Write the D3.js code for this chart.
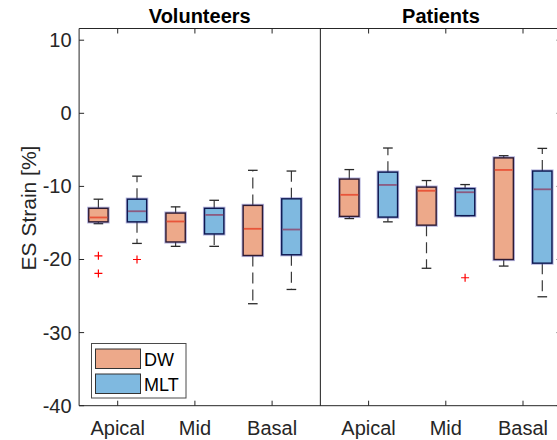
<!DOCTYPE html>
<html>
<head>
<meta charset="utf-8">
<script src="https://cdn.jsdelivr.net/npm/d3@7"></script>
<style>
  html, body { margin: 0; padding: 0; background: #fff; }
  svg { display: block; font-family: "Liberation Sans", Arial, sans-serif; }
</style>
</head>
<body>
<svg id="chart" width="557" height="440"></svg>
<script>
// ---------- data ----------
const groups = ["Volunteers", "Patients"];
const categories = ["Apical", "Mid", "Basal"];
const seriesNames = ["DW", "MLT"];
const yTicks = [10, 0, -10, -20, -30, -40];

// stats: [lower whisker, Q1, median, Q3, upper whisker]
const volunteersDW = [
  [-15.1, -14.85, -14.25, -13.0, -11.75],
  [-18.2, -17.6, -14.8, -13.65, -12.8],
  [-26.05, -19.45, -15.8, -12.6, -7.8]
];
const volunteersMLT = [
  [-17.8, -14.85, -13.4, -11.75, -8.6],
  [-18.2, -16.5, -13.9, -13.0, -11.9],
  [-24.1, -19.35, -15.9, -11.7, -7.9]
];
const patientsDW = [
  [-14.4, -14.1, -11.15, -9.0, -7.7],
  [-21.2, -15.3, -10.6, -10.1, -9.2],
  [-20.9, -20.0, -7.75, -6.1, -5.8]
];
const patientsMLT = [
  [-14.85, -14.2, -9.8, -8.05, -4.75],
  [-14.0, -14.0, -10.8, -10.3, -9.75],
  [-25.1, -20.5, -10.4, -7.9, -4.8]
];
// outliers: [group, category, series, value]
const outliers = [
  ["Volunteers", "Apical", "DW", -19.5],
  ["Volunteers", "Apical", "DW", -21.9],
  ["Volunteers", "Apical", "MLT", -20.0],
  ["Patients", "Mid", "MLT", -22.5]
];

// ---------- layout ----------
const svg = d3.select("#chart");
const x = d3.scaleLinear().domain([0.5, 6.75]).range([79.1, 561.6]);
const y = d3.scaleLinear().domain([-40, 11.6]).range([405.7, 28.5]);

const groupBase = { "Volunteers": 1, "Patients": 4.25 };
const seriesOffset = { "DW": -0.25, "MLT": 0.25 };
const boxW = 0.25;
const fills = { "DW": "#EDA98A", "MLT": "#7FB9E0" };
const edges = { "DW": "#2e1b33", "MLT": "#0d1850" };
const medColors = { "DW": "#E8553A", "MLT": "#8C5A80" };
const axisColor = "#262626";

const statTable = {
  "Volunteers": { "DW": volunteersDW, "MLT": volunteersMLT },
  "Patients": { "DW": patientsDW, "MLT": patientsMLT }
};

const boxes = [];
groups.forEach(g => categories.forEach((c, ci) => seriesNames.forEach(s => {
  const st = statTable[g][s][ci];
  boxes.push({ g, c, s, pos: groupBase[g] + ci + seriesOffset[s],
    lw: st[0], q1: st[1], med: st[2], q3: st[3], uw: st[4] });
})));

const bx = svg.append("g");
boxes.forEach(b => {
  const xc = x(b.pos);
  const hw = (x(boxW) - x(0)) / 2;
  const capHw = hw / 2;
  const gg = bx.append("g");
  // whiskers (dashed, drawn from box edge outward)
  [[b.q3, b.uw], [b.q1, b.lw]].forEach(([from, to]) => {
    if (Math.abs(y(from) - y(to)) > 0.5) {
      gg.append("line").attr("x1", xc).attr("x2", xc)
        .attr("y1", y(from)).attr("y2", y(to))
        .attr("stroke", "#3a3a3a").attr("stroke-width", 1.2)
        .attr("stroke-dasharray", "11,6");
    }
    gg.append("line").attr("x1", xc - capHw).attr("x2", xc + capHw)
      .attr("y1", y(to)).attr("y2", y(to))
      .attr("stroke", "#2a2a2a").attr("stroke-width", 1.3);
  });
  // glow
  gg.append("rect").attr("x", xc - hw).attr("width", 2 * hw)
    .attr("y", y(b.q3)).attr("height", y(b.q1) - y(b.q3))
    .attr("fill", "none").attr("stroke", "#5050b0").attr("stroke-opacity", 0.45)
    .attr("stroke-width", 3.2);
  gg.append("rect").attr("x", xc - hw).attr("width", 2 * hw)
    .attr("y", y(b.q3)).attr("height", y(b.q1) - y(b.q3))
    .attr("fill", fills[b.s]).attr("stroke", edges[b.s]).attr("stroke-width", 1.4);
  gg.append("line").attr("x1", xc - hw + 0.7).attr("x2", xc + hw - 0.7)
    .attr("y1", y(b.med)).attr("y2", y(b.med))
    .attr("stroke", medColors[b.s]).attr("stroke-width", 1.8);
});

// outliers
outliers.forEach(([g, c, s, v]) => {
  const xc = x(groupBase[g] + categories.indexOf(c) + seriesOffset[s]);
  const yc = y(v);
  bx.append("path")
    .attr("d", `M${xc - 4},${yc}H${xc + 4}M${xc},${yc - 4}V${yc + 4}`)
    .attr("stroke", "#ff0000").attr("stroke-width", 1.2).attr("fill", "none");
});

// ---------- axes ----------
const [x0, x1] = x.range();
const [yb, yt] = y.range();
const ax = svg.append("g").attr("stroke", axisColor).attr("stroke-width", 1);
ax.append("line").attr("x1", x0).attr("x2", x1).attr("y1", yb).attr("y2", yb);
ax.append("line").attr("x1", x0).attr("x2", x1).attr("y1", yt).attr("y2", yt);
ax.append("line").attr("x1", x0).attr("x2", x0).attr("y1", yt).attr("y2", yb);
ax.append("line").attr("x1", x1).attr("x2", x1).attr("y1", yt).attr("y2", yb);
// divider
const divPos = (groupBase["Volunteers"] + categories.length - 1 + groupBase["Patients"]) / 2;
ax.append("line").attr("x1", x(divPos)).attr("x2", x(divPos)).attr("y1", yt).attr("y2", yb)
  .attr("stroke", "#1a1a1a");

const tl = 5;
yTicks.forEach(v => {
  ax.append("line").attr("x1", x0).attr("x2", x0 + tl).attr("y1", y(v)).attr("y2", y(v));
  ax.append("line").attr("x1", x1).attr("x2", x1 - tl).attr("y1", y(v)).attr("y2", y(v));
});
svg.append("g").selectAll("text").data(yTicks).join("text")
  .attr("x", x0 - 7.5).attr("y", v => y(v)).attr("dy", "0.35em")
  .attr("text-anchor", "end").attr("font-size", 20).attr("fill", axisColor)
  .text(v => v);

groups.forEach(g => categories.forEach((c, ci) => {
  const px = x(groupBase[g] + ci);
  ax.append("line").attr("x1", px).attr("x2", px).attr("y1", yb).attr("y2", yb - tl);
  ax.append("line").attr("x1", px).attr("x2", px).attr("y1", yt).attr("y2", yt + tl);
  svg.append("text").attr("x", px).attr("y", 434.5)
    .attr("text-anchor", "middle").attr("font-size", 20).attr("fill", axisColor)
    .text(c);
}));

// group titles
groups.forEach(g => {
  const lo = g === "Volunteers" ? x0 : x(divPos);
  const hi = g === "Volunteers" ? x(divPos) : x1;
  svg.append("text").attr("x", (lo + hi) / 2).attr("y", 23)
    .attr("text-anchor", "middle").attr("font-size", 20).attr("font-weight", "bold")
    .attr("fill", "#000").text(g);
});

// y label
svg.append("text").attr("transform", "translate(36,208) rotate(-90)")
  .attr("text-anchor", "middle").attr("font-size", 21).attr("fill", axisColor)
  .text("ES Strain [%]");

// legend
const lg = svg.append("g");
lg.append("rect").attr("x", 91.5).attr("y", 343.5).attr("width", 94.5).attr("height", 54.5)
  .attr("fill", "#fff").attr("stroke", "#4a4a4a").attr("stroke-width", 1);
seriesNames.forEach((s, i) => {
  const yy = 349 + i * 25;
  lg.append("rect").attr("x", 95.5).attr("y", yy).attr("width", 45).attr("height", 19.5)
    .attr("fill", fills[s]).attr("stroke", "#333").attr("stroke-width", 1);
  lg.append("text").attr("x", 144).attr("y", yy + 16.5).attr("font-size", 18)
    .attr("fill", "#000").text(s);
});
</script>
</body>
</html>
